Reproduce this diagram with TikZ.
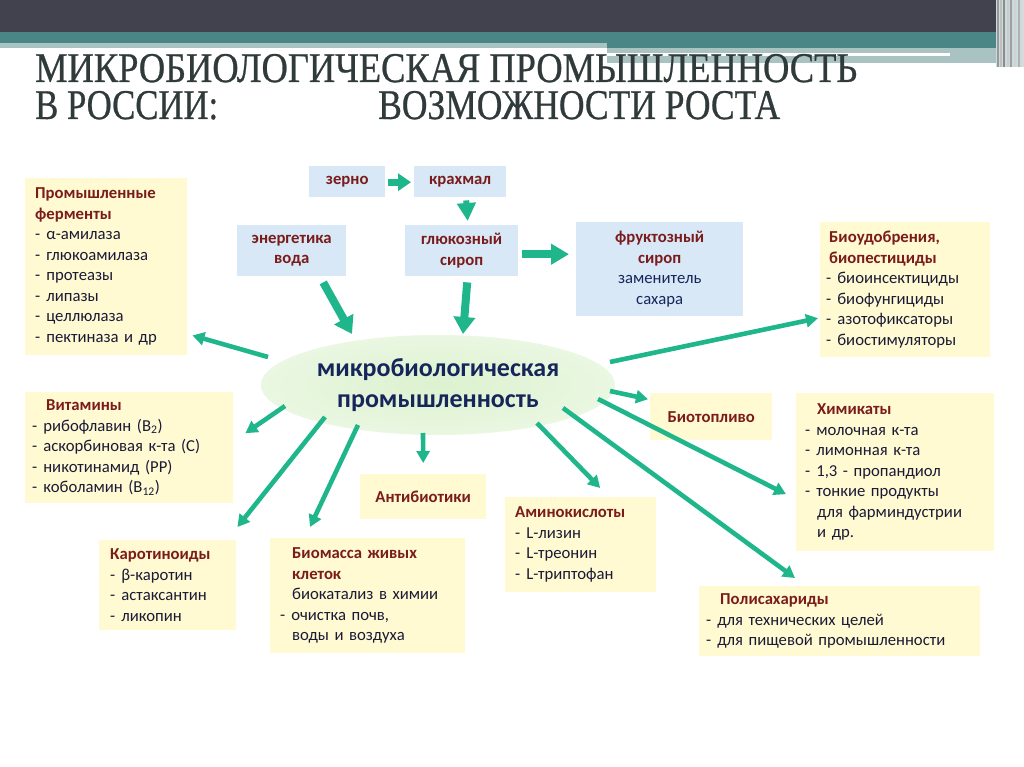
\documentclass[tikz,border=0pt]{standalone}
\usepackage{fontspec}
\setmainfont{Carlito}
\newfontfamily\ttlfont[FakeBold=0.7]{Liberation Serif}
\usetikzlibrary{arrows.meta,shapes.geometric}
\definecolor{hdark}{HTML}{42424F}
\definecolor{hteal}{HTML}{4A8686}
\definecolor{hlight}{HTML}{A9C3C3}
\definecolor{ttl}{HTML}{303A3A}
\definecolor{boxY}{HTML}{FFFAD2}
\definecolor{boxB}{HTML}{D8E8F7}
\definecolor{dred}{HTML}{7A1C1C}
\definecolor{ink}{HTML}{1A1A36}
\definecolor{navy}{HTML}{16265A}
\definecolor{garrow}{HTML}{20B68C}
\definecolor{ellin}{HTML}{DCF2CF}
\definecolor{ellout}{HTML}{EAF7E2}
\newcommand\dsh{-\hspace{6pt}}
\newcommand\ttlr[1]{\textbf{\color{dred}#1}}
\begin{document}
\begin{tikzpicture}[x=1pt,y=-1pt,
  bodyfont/.style={font=\fontsize{16.7}{20.5}\selectfont},
  ybox/.style n args={3}{rectangle, fill=boxY, anchor=north west, inner ysep=0pt,
     inner xsep=#3, minimum width=#1, minimum height=#2, text width=#1-2*#3,
     align=left, text=ink, bodyfont},
  bbox/.style 2 args={rectangle, fill=boxB, anchor=north west, inner sep=0pt,
     minimum width=#1, minimum height=#2, align=center, text=dred,
     font=\fontsize{16.7}{20.5}\selectfont\bfseries},
  garr/.style={draw=garrow, line width=4.6pt,
     -{Triangle[width=13pt,length=12pt]}},
  gfat/.style={draw=garrow, line width=8pt,
     -{Triangle[width=21pt,length=17pt]}},
]
\useasboundingbox (0,0) rectangle (1024,767);
\fill[white] (0,0) rectangle (1024,767);
% header bars
\fill[hdark] (0,0) rectangle (996,32);
\fill[hteal] (0,32) rectangle (996,43);
\fill[hteal] (607,43) rectangle (996,48);
\fill[hlight] (0,43) rectangle (607,48);
\fill[hlight] (607,48) rectangle (996,63);
\fill[white] (607,53) rectangle (950,56);
\fill[hlight!60] (996,0) rectangle (1024,67);
\foreach \xx/\cc in {997/gray!80,1000/gray!50,1003/gray!90,1007/gray!40,1010/gray!75,1014/gray!35,1018/gray!60,1022/gray!30}
  \fill[\cc] (\xx,0) rectangle (\xx+1.6,67);
% title
\node[anchor=base west, inner sep=0pt, text=ttl] (t1) at (35,82)
  {\resizebox{822pt}{28pt}{\ttlfont МИКРОБИОЛОГИЧЕСКАЯ ПРОМЫШЛЕННОСТЬ}};
\node[anchor=base west, inner sep=0pt, text=ttl] (t2) at (35,119)
  {\resizebox{183pt}{28pt}{\ttlfont В РОССИИ:}};
\node[anchor=base west, inner sep=0pt, text=ttl] (t3) at (378,119)
  {\resizebox{402pt}{28pt}{\ttlfont ВОЗМОЖНОСТИ РОСТА}};

% blue boxes
\node[bbox={76pt}{31pt}] (z) at (309,166) {зерно};
\node[bbox={92pt}{31pt}] (k) at (414,166) {крахмал};
\node[bbox={109pt}{51pt}] (e) at (237,225) {энергетика\\вода};
\node[bbox={113pt}{51pt}] (g) at (405,225) {глюкозный\\сироп};
\node[bbox={167pt}{94pt}] (fr) at (576,222)
  {фруктозный\\сироп\\{\mdseries\color{navy}заменитель}\\{\mdseries\color{navy}сахара}};

% ellipse
\node[ellipse, inner sep=0pt, minimum width=354pt, minimum height=100pt,
  shading=radial, inner color=ellin, outer color=ellout, align=center,
  text=navy, font=\fontsize{26}{31}\selectfont\bfseries] (m) at (438,385)
  {микробиологическая\\промышленность};

% yellow boxes
\node[ybox={162pt}{177pt}{10pt}] (f) at (25,178)
  {\ttlr{Промышленные}\\\ttlr{ферменты}\\\dsh α-амилаза\\\dsh глюкоамилаза\\\dsh протеазы\\\dsh липазы\\\dsh целлюлаза\\\dsh пектиназа и др};
\node[ybox={170pt}{135pt}{6pt}] (bio) at (820,222)
  {\hspace*{3pt}\ttlr{Биоудобрения,}\\\hspace*{3pt}\ttlr{биопестициды}\\\dsh биоинсектициды\\\dsh биофунгициды\\\dsh азотофиксаторы\\\dsh биостимуляторы};
\node[ybox={208pt}{111pt}{7pt}] (vit) at (25,392)
  {\hspace*{14pt}\ttlr{Витамины}\\\dsh рибофлавин (B\textsubscript{2})\\\dsh аскорбиновая к-та (С)\\\dsh никотинамид (PP)\\\dsh коболамин (B\textsubscript{12})};
\node[ybox={122pt}{47pt}{0pt}, align=center] (bt) at (650,393) {\ttlr{Биотопливо}};
\node[ybox={198pt}{158pt}{9pt}] (chem) at (796,393)
  {\hspace*{12pt}\ttlr{Химикаты}\\\dsh молочная к-та\\\dsh лимонная к-та\\\dsh 1,3 - пропандиол\\\dsh тонкие продукты\\\hspace*{12pt}для фарминдустрии\\\hspace*{12pt}и др.};
\node[ybox={126pt}{45pt}{0pt}, align=center] (ab) at (360,474) {\ttlr{Антибиотики}};
\node[ybox={151pt}{95pt}{10pt}] (am) at (505,497)
  {\ttlr{Аминокислоты}\\\dsh L-лизин\\\dsh L-треонин\\\dsh L-триптофан};
\node[ybox={137pt}{90pt}{11pt}] (kar) at (99,540)
  {\ttlr{Каротиноиды}\\\dsh β-каротин\\\dsh астаксантин\\\dsh ликопин};
\node[ybox={195pt}{115pt}{10pt}] (bm) at (270,538)
  {\hspace*{12pt}\ttlr{Биомасса живых}\\\hspace*{12pt}\ttlr{клеток}\\\hspace*{12pt}биокатализ в химии\\\dsh очистка почв,\\\hspace*{12pt}воды и воздуха};
\node[ybox={281pt}{70pt}{7pt}] (pol) at (699,586)
  {\hspace*{14pt}\ttlr{Полисахариды}\\\dsh для технических целей\\\dsh для пищевой промышленности};

% thick arrows of the top chain
\draw[garrow, line width=7pt, -{Triangle[width=17pt,length=13pt]}]
  ([shift={(3,0.5)}]z.east) -- ([shift={(-3,0.5)}]k.west);
\draw[garrow, line width=6pt, -{Triangle[width=18pt,length=18pt]}]
  ([shift={(6,3)}]k.south) -- ([shift={(6,-4)}]g.north);
\draw[gfat, -{Triangle[width=20pt,length=18pt]}]
  ([shift={(4,3.5)}]g.east) -- ([shift={(-7,-15)}]fr.west);
\draw[gfat] ([shift={(31.5,6)}]e.south) -- ([shift={(-86,-51)}]m.center);
\draw[gfat] ([shift={(5.5,6)}]g.south) -- ([shift={(25,-51)}]m.center);

% arrows from the ellipse
\draw[garr] ([shift={(-170,-28)}]m.center) -- ([shift={(5,-20)}]f.south east);
\draw[garr] ([shift={(172,-23)}]m.center) -- ([shift={(-2,28.5)}]bio.west);
\draw[garr] ([shift={(-153,21)}]m.center) -- ([shift={(12,-14.5)}]vit.east);
\draw[garr] ([shift={(-113,32)}]m.center) -- ([shift={(1,-13)}]kar.north east);
\draw[garr] ([shift={(-80,40)}]m.center) -- ([shift={(40,-11)}]bm.north west);
\draw[garr] ([shift={(-15,48)}]m.center) -- ([shift={(0,-11)}]ab.north);
\draw[garr] ([shift={(99,38)}]m.center) -- ([shift={(19.5,-9)}]am.north);
\draw[garr] ([shift={(172,6)}]m.center) -- ([shift={(-2,-17.5)}]bt.west);
\draw[garr] ([shift={(160,14)}]m.center) -- ([shift={(-10,22)}]chem.west);
\draw[garr] ([shift={(125,23)}]m.center) -- ([shift={(96,-8)}]pol.north west);
\end{tikzpicture}
\end{document}
